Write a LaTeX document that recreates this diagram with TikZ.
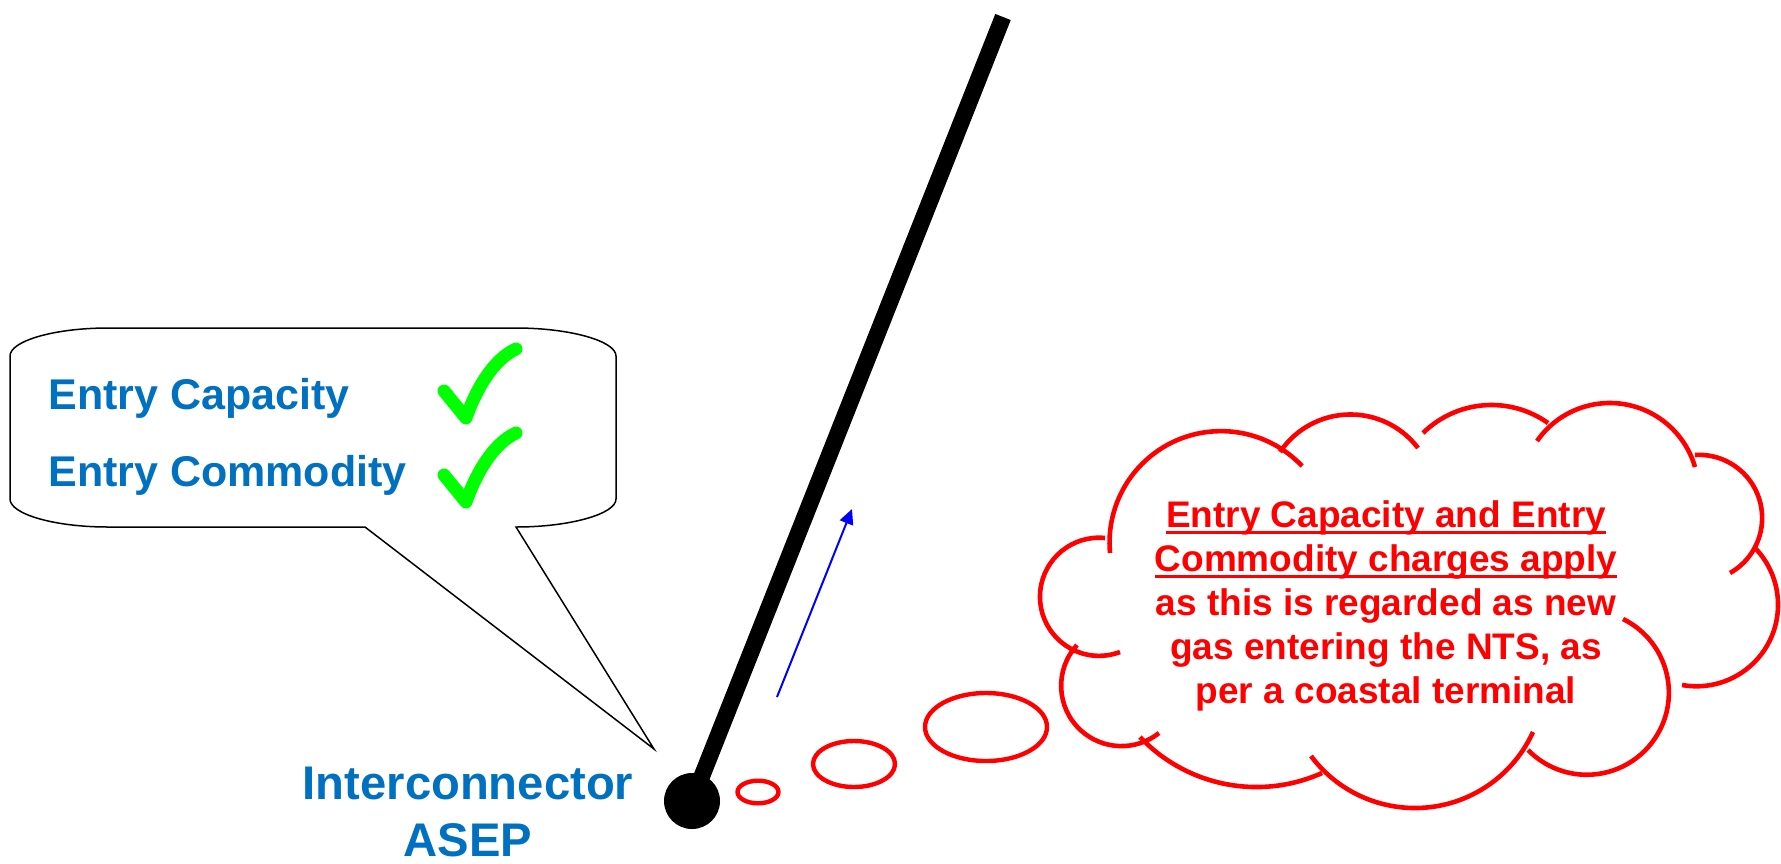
\documentclass[tikz,border=0pt]{standalone}
\usepackage{fontspec}
\setmainfont{Liberation Sans}
\usetikzlibrary{arrows.meta}

\definecolor{asepblue}{RGB}{0,112,192}
\definecolor{tickgreen}{RGB}{0,255,0}

% underline drawn close to the baseline
\newcommand{\cloudul}[1]{\setbox0\hbox{#1}\rlap{\rule[-3pt]{\wd0}{1.25pt}}\box0}

% one puff of the cloud: circular arc from (#1,#2) through (#3,#4) to (#5,#6)
\newcommand{\lobe}[6]{%
  \pgfmathsetmacro\lobeax{(#1-#3)/10}\pgfmathsetmacro\lobeay{(#2-#4)/10}%
  \pgfmathsetmacro\lobebx{(#5-#3)/10}\pgfmathsetmacro\lobeby{(#6-#4)/10}%
  \pgfmathsetmacro\lobeA{\lobeax*\lobeax+\lobeay*\lobeay}%
  \pgfmathsetmacro\lobeB{\lobebx*\lobebx+\lobeby*\lobeby}%
  \pgfmathsetmacro\lobedet{\lobeax*\lobeby-\lobeay*\lobebx}%
  \pgfmathsetmacro\lobecx{-0.5*(-\lobeA*\lobeby+\lobeB*\lobeay)/\lobedet}%
  \pgfmathsetmacro\lobecy{-0.5*(-\lobeax*\lobeB+\lobebx*\lobeA)/\lobedet}%
  \pgfmathsetmacro\lober{10*sqrt(\lobecx*\lobecx+\lobecy*\lobecy)}%
  \pgfmathsetmacro\lobeaa{atan2(\lobeay-\lobecy,\lobeax-\lobecx)}%
  \pgfmathsetmacro\lobeab{atan2(-\lobecy,-\lobecx)}%
  \pgfmathsetmacro\lobeac{atan2(\lobeby-\lobecy,\lobebx-\lobecx)}%
  \pgfmathsetmacro\lobedb{mod(\lobeab-\lobeaa+720,360)}%
  \pgfmathsetmacro\lobedc{mod(\lobeac-\lobeaa+720,360)}%
  \pgfmathsetmacro\lobeend{(\lobedb<\lobedc) ? (\lobeaa+\lobedc) : (\lobeaa+\lobedc-360)}%
  \draw[puff] (#1,#2) arc[start angle=\lobeaa, end angle=\lobeend, radius=\lober];%
}

\begin{document}
\begin{tikzpicture}[x=0.5pt, y=-0.5pt,
    % text styles
    boxtext/.style={font=\fontsize{21.5}{26}\selectfont\bfseries, text=asepblue, inner sep=0pt, anchor=base west},
    asepname/.style={font=\fontsize{23.6}{28.5}\selectfont\bfseries, text=asepblue, align=center, inner sep=0pt},
    cloudtext/.style={font=\fontsize{18.5}{22}\selectfont\bfseries, text=red, align=center, inner sep=0pt},
    % line styles
    callout/.style={draw=black, line width=0.75pt},
    checkmark/.style={draw=tickgreen, line width=6.5pt, line cap=round, line join=round},
    pipeline/.style={draw=black, line width=8.3pt, line cap=butt},
    asepdot/.style={circle, fill=black, minimum size=28pt, inner sep=0pt},
    gasflow/.style={draw=blue, line width=1pt, -{Triangle[length=7.5pt, width=7pt]}},
    puff/.style={draw=red, line width=2.3pt},
    bubble/.style={draw=red, line width=2.2pt}
]
\useasboundingbox (0,0) rectangle (1781,863);

% Speech callout
\draw[callout] (365,527) -- (654,749) -- (516,527)
    .. controls (570,527) and (616,514) .. (616,499) -- (616,356)
    .. controls (616,341) and (570,328) .. (516,328) -- (108,328)
    .. controls (54,328) and (10,341) .. (10,356) -- (10,499)
    .. controls (10,514) and (54,527) .. (108,527) -- cycle;

\node[boxtext] (capacity) at (48,409) {Entry Capacity};
\node[boxtext] (commodity) at (48,486) {Entry Commodity};

% Ticks
\foreach \dy in {0,84} {
    \draw[checkmark, yshift=-0.5*\dy pt] (444,391) -- (466,418)
        .. controls (475,392) and (492,360) .. (516,349);
}

% Pipeline and ASEP
\coordinate (pipetop) at (1003,17);
\node[asepdot] (asep) at (692,801) {};
\draw[pipeline] (asep.center) -- (pipetop);
\node[asepname] (asepname) at (468,812) {Interconnector\\ASEP};

% Flow direction
\coordinate (flowstart) at (777,697);
\coordinate (flowend) at (852,509);
\draw[gasflow] (flowstart) -- (flowend);

% Thought bubbles
\draw[bubble] (758,792) ellipse [x radius=20.5, y radius=11.3];
\draw[bubble] (854,764) ellipse [x radius=41, y radius=23];
\draw[bubble] (986,727) ellipse [x radius=61, y radius=34];

% Cloud outline
\foreach \xa/\ya/\xb/\yb/\xc/\yc in {
    1105/538/1040/595/1120/652,
    1302/466/1140/466/1110/553,
    1280/452/1360/415/1418/448,
    1423/433/1490/405/1548/423,
    1537/441/1610/403/1695/467,
    1695/455/1762/522/1730/573,
    1755/548/1778/603/1682/685,
    1623/619/1667/710/1528/750,
    1311/756/1415/808/1533/732,
    1140/737/1254/787/1322/773,
    1077/645/1065/707/1159/733} {
  \lobe{\xa}{\ya}{\xb}{\yb}{\xc}{\yc}
}

\node[cloudtext] (charges) at (1386,606) {\cloudul{Entry Capacity and Entry}\\\cloudul{Commodity charges apply}\\as this is regarded as new\\gas entering the NTS, as\\per a coastal terminal};

\end{tikzpicture}
\end{document}
